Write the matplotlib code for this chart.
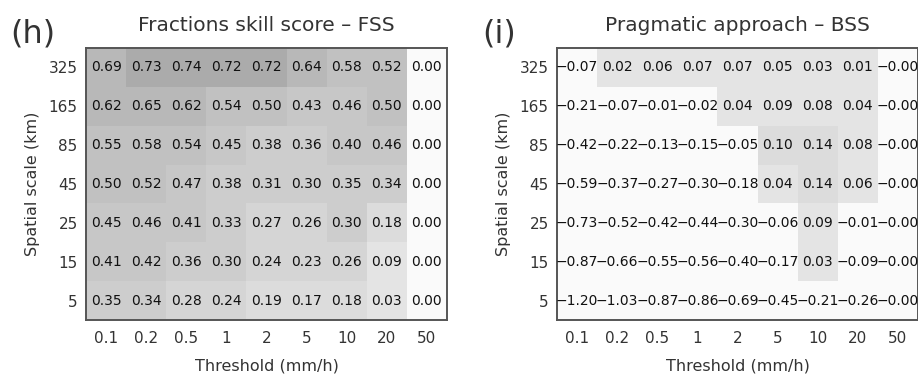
import numpy as np
import matplotlib.pyplot as plt
from matplotlib.colors import ListedColormap, BoundaryNorm

### DATOS
### ------------------

thresholds = ["0.1", "0.2", "0.5", "1", "2", "5", "10", "20", "50"]
scales = ["325", "165", "85", "45", "25", "15", "5"]

# Fractions skill score (filas de 325 km a 5 km)
fss = [
    [0.69, 0.73, 0.74, 0.72, 0.72, 0.64, 0.58, 0.52, 0.00],
    [0.62, 0.65, 0.62, 0.54, 0.50, 0.43, 0.46, 0.50, 0.00],
    [0.55, 0.58, 0.54, 0.45, 0.38, 0.36, 0.40, 0.46, 0.00],
    [0.50, 0.52, 0.47, 0.38, 0.31, 0.30, 0.35, 0.34, 0.00],
    [0.45, 0.46, 0.41, 0.33, 0.27, 0.26, 0.30, 0.18, 0.00],
    [0.41, 0.42, 0.36, 0.30, 0.24, 0.23, 0.26, 0.09, 0.00],
    [0.35, 0.34, 0.28, 0.24, 0.19, 0.17, 0.18, 0.03, 0.00],
]

# Pragmatic approach - BSS
bss = [
    [-0.07, 0.02, 0.06, 0.07, 0.07, 0.05, 0.03, 0.01, -0.0],
    [-0.21, -0.07, -0.01, -0.02, 0.04, 0.09, 0.08, 0.04, -0.0],
    [-0.42, -0.22, -0.13, -0.15, -0.05, 0.10, 0.14, 0.08, -0.0],
    [-0.59, -0.37, -0.27, -0.30, -0.18, 0.04, 0.14, 0.06, -0.0],
    [-0.73, -0.52, -0.42, -0.44, -0.30, -0.06, 0.09, -0.01, -0.0],
    [-0.87, -0.66, -0.55, -0.56, -0.40, -0.17, 0.03, -0.09, -0.0],
    [-1.20, -1.03, -0.87, -0.86, -0.69, -0.45, -0.21, -0.26, -0.0],
]

# Niveles de sombreado (gris por intervalo de 0.1)
levels = [-2.0, 0.005, 0.1, 0.2, 0.3, 0.4, 0.5, 0.6, 0.7, 0.8]
grays = ["#fafafa", "#e4e4e4", "#dcdcdc", "#d5d5d5", "#cdcdcd",
         "#c7c7c7", "#c1c1c1", "#b8b8b8", "#ababab"]
cmap = ListedColormap(grays)
norm = BoundaryNorm(levels, cmap.N)


### FUNCIONES
### ------------------

def cell_label(v):
    # el original usa un guion largo para el signo menos
    return ("%.2f" % v).replace("-", "\u2212")

def draw_panel(ax, values, title):
    vals = np.array(values)
    nx = len(thresholds)
    ny = len(scales)
    ax.pcolormesh(np.arange(nx + 1), np.arange(ny + 1), vals,
                  cmap=cmap, norm=norm)
    ax.set_xlim(0, nx)
    ax.set_ylim(ny, 0)

    # Valor numerico en cada celda
    for i in range(ny):
        for j in range(nx):
            ax.text(j + 0.5, i + 0.5, cell_label(vals[i, j]), ha="center",
                    va="center", fontsize=10, color="#111111", clip_on=False)

    ax.set_xticks(np.arange(nx) + 0.5, thresholds)
    ax.set_yticks(np.arange(ny) + 0.5, scales)
    ax.tick_params(length=0, labelsize=11, colors="#333333")
    ax.tick_params(axis="x", pad=8)
    ax.tick_params(axis="y", pad=6)
    ax.set_xlabel("Threshold (mm/h)", fontsize=11.5, labelpad=9, color="#333333")
    ax.set_ylabel("Spatial scale (km)", fontsize=11.5, labelpad=6, color="#333333")
    ax.set_title(title, fontsize=14.5, pad=12, color="#333333")
    for s in ax.spines.values():
        s.set_color("#555555")
        s.set_linewidth(1.4)


### FIGURA
### ------------------

fig = plt.figure(figsize=(9.18, 3.76), dpi=100)
ax1 = fig.add_axes([0.0937, 0.149, 0.3932, 0.7234])
ax2 = fig.add_axes([0.6068, 0.149, 0.3932, 0.7234])

draw_panel(ax1, fss, "Fractions skill score \u2013 FSS")
draw_panel(ax2, bss, "Pragmatic approach \u2013 BSS")

fig.text(0.011, 0.91, "(h)", fontsize=23, va="center", color="#333333")
fig.text(0.525, 0.91, "(i)", fontsize=23, va="center", color="#333333")

fig.savefig("out.png", dpi=100)
